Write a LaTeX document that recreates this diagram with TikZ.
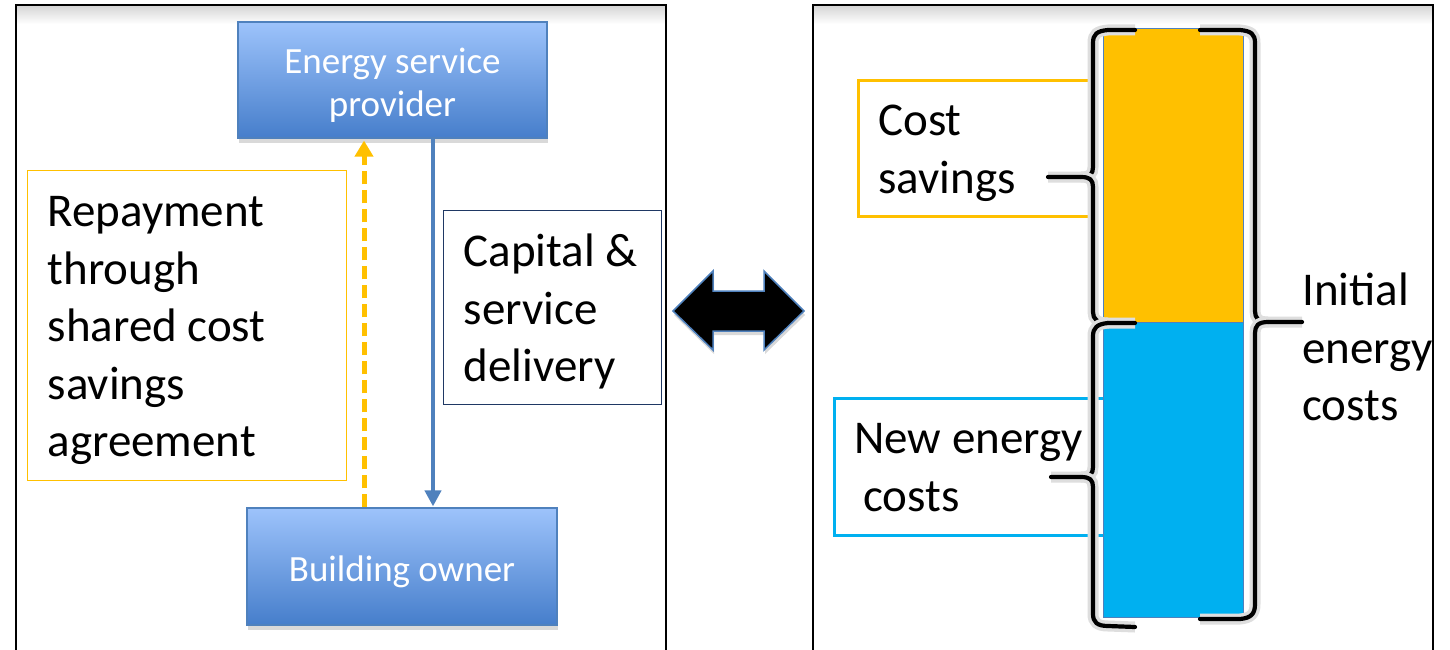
\documentclass[tikz,border=0pt]{standalone}
\usepackage{fontspec}
\setmainfont{Carlito}
\usetikzlibrary{arrows.meta,shadows,calc}
\definecolor{esblue}{HTML}{4F81BD}
\definecolor{boxtop}{HTML}{9DC3FB}
\definecolor{boxbot}{HTML}{467ECB}
\definecolor{gold}{HTML}{FFC000}
\definecolor{sky}{HTML}{00B0F0}
\definecolor{navy}{HTML}{1F3864}
% invisible strut that raises the first line's height
\newcommand\padtop[1]{\rule{0pt}{#1}}
\begin{document}
\begin{tikzpicture}[x=1pt,y=-1pt,
  actor/.style={draw=esblue, line width=1.2pt, top color=boxtop, bottom color=boxbot,
    text=white, font=\fontsize{37}{43}\selectfont, align=center,
    drop shadow={shadow xshift=1pt, shadow yshift=-5pt, opacity=0.3}},
  textbox/.style={line width=1.3pt, anchor=north west, align=flush left, inner xsep=20pt, inner ysep=0pt,
    font=\fontsize{47}{57.5}\selectfont, fill=white},
  panel/.style={draw=black, line width=1.6pt},
  topshade/.style={top color=black!16, bottom color=white, draw=none},
  brace/.style={draw=black, line width=4.2pt, line cap=round, line join=round,
    preaction={draw=black!13, line width=11pt}},
  flowdash/.style={draw=gold, line width=5pt, dash pattern=on 13pt off 6pt,
    -{Triangle[length=16pt,width=18pt]}},
  flowsolid/.style={draw=esblue, line width=4.5pt, -{Triangle[length=16pt,width=16pt]}},
]
\useasboundingbox (0,0) rectangle (1450,650);

% panels
\shade[topshade] (17,6) rectangle (665,24);
\shade[topshade] (814,6) rectangle (1432,24);
\draw[panel] (16,650) -- (16,5) -- (666,5) -- (666,650);
\draw[panel] (813,650) -- (813,5) -- (1433,5) -- (1433,650);

% left panel: parties and flows
\node[actor, minimum width=309pt, minimum height=116pt] (esp) at (392.5,80)
  {\padtop{35pt}Energy service\\provider};
\node[actor, minimum width=310pt, minimum height=117pt] (bo) at (402,566.5)
  {\padtop{37pt}Building owner};

\node[textbox, draw=gold, text width=279pt, minimum height=310pt] (repay) at (27,170)
  {\padtop{40pt}Repayment\\through\\\mbox{shared cost}\\savings\\agreement};
\node[textbox, draw=navy, text width=178pt, minimum height=194pt] (capital) at (443,210)
  {\padtop{41pt}\mbox{Capital \&}\\service\\delivery};

\coordinate (ys) at ($(bo.north)+(-38,0)$);
\coordinate (ye) at ($(esp.south -| ys)+(0,2)$);
\coordinate (bs) at ($(esp.south)+(40.5,0)$);
\coordinate (be) at ($(bo.north -| bs)+(0,-1)$);
\draw[flowdash] (ys) -- (ye);
\draw[flowsolid] (bs) -- (be);

% double arrow between panels
\filldraw[fill=black, draw=esblue, line width=1.5pt, line join=miter,
  drop shadow={shadow xshift=1pt, shadow yshift=-4pt, opacity=0.3}]
  (673,311) -- (713,271) -- (713,291) -- (764,291) -- (764,271) -- (804,311)
  -- (764,350) -- (764,331) -- (713,331) -- (713,350) -- cycle;

% right panel: cost bar
\node[textbox, draw=gold, line width=2.6pt, text width=195pt, minimum height=136pt] (save) at (857,79)
  {\padtop{40pt}Cost\\savings};
\node[textbox, draw=sky, line width=2.6pt, text width=232pt, minimum height=137pt] (new) at (833,397)
  {\padtop{32pt}\mbox{New energy}\\\hspace*{9pt}costs};

\node[fill=gold, draw=esblue, line width=1.1pt, inner sep=0pt, anchor=north west,
  minimum width=140pt, minimum height=294pt] (upper) at (1103,28) {};
\node[fill=sky, draw=esblue, line width=1.1pt, inner sep=0pt, anchor=north west,
  minimum width=140pt, minimum height=295pt] (lower) at (1103,322) {};

% braces
\draw[brace] (1135,30) -- (1108,30) .. controls (1097,31) and (1093,34) .. (1093,43)
  -- (1093,167) .. controls (1093,174) and (1090,177) .. (1081,177) -- (1048,177);
\draw[brace] (1081,177) .. controls (1090,177) and (1093,180) .. (1093,187)
  -- (1093,312) .. controls (1093,319) and (1097,323) .. (1108,323) -- (1135,323);
\draw[brace] (1108,323) .. controls (1097,324) and (1093,328) .. (1093,336)
  -- (1093,467) .. controls (1093,474) and (1090,477) .. (1081,477) -- (1051,477);
\draw[brace] (1081,477) .. controls (1090,477) and (1093,480) .. (1093,487)
  -- (1093,614) .. controls (1093,622) and (1097,626) .. (1108,626) -- (1135,627);
\draw[brace] (1200,30) -- (1240,30) .. controls (1251,31) and (1255,34) .. (1255,43)
  -- (1255,311) .. controls (1255,318) and (1258,322) .. (1268,322) -- (1302,322);
\draw[brace] (1268,322) .. controls (1258,322) and (1255,326) .. (1255,333)
  -- (1255,604) .. controls (1255,614) and (1251,618) .. (1240,619) -- (1200,619);

\node[anchor=west, inner sep=0pt, align=left, font=\fontsize{47}{57.5}\selectfont] (initial)
  at (1302,347) {Initial\\energy\\costs};
\end{tikzpicture}
\end{document}
